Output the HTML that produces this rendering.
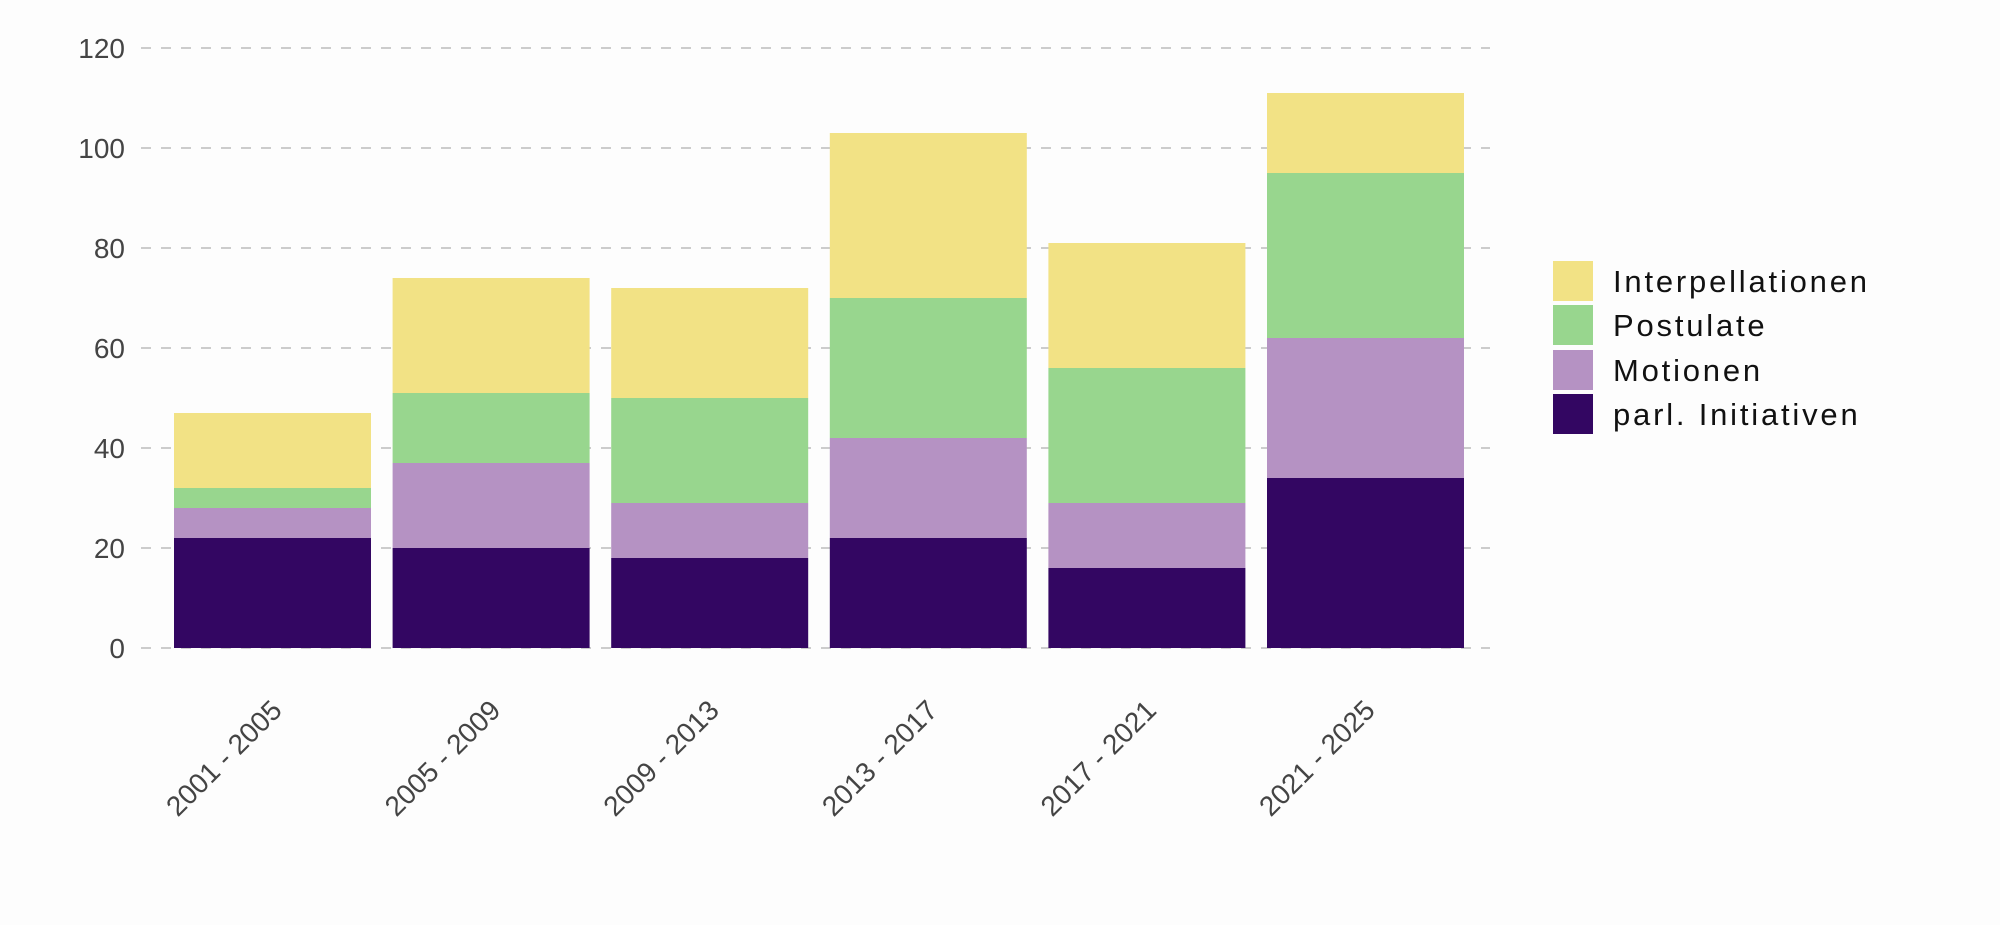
<!DOCTYPE html>
<html><head><meta charset="utf-8"><style>
html,body{margin:0;padding:0;background:#fdfdfd;}
svg{display:block;}
</style></head><body>
<svg width="2000" height="925" xmlns="http://www.w3.org/2000/svg">
<rect width="2000" height="925" fill="#fdfdfd"/>
<g stroke="#cccccc" stroke-width="2" stroke-dasharray="10,10">
<line x1="141" y1="48" x2="1490" y2="48"/>
<line x1="141" y1="148" x2="1490" y2="148"/>
<line x1="141" y1="248" x2="1490" y2="248"/>
<line x1="141" y1="348" x2="1490" y2="348"/>
<line x1="141" y1="448" x2="1490" y2="448"/>
<line x1="141" y1="548" x2="1490" y2="548"/>
<line x1="141" y1="648" x2="1490" y2="648"/>
</g>
<g font-family="Liberation Sans, sans-serif" font-size="28" fill="#444" text-anchor="end">
<text x="125" y="58">120</text>
<text x="125" y="158">100</text>
<text x="125" y="258">80</text>
<text x="125" y="358">60</text>
<text x="125" y="458">40</text>
<text x="125" y="558">20</text>
<text x="125" y="658">0</text>
</g>
<g id="bars"></g>
<g font-family="Liberation Sans, sans-serif" font-size="28" fill="#444" text-anchor="end" id="xl"></g>
<g font-family="Liberation Sans, DejaVu Sans, sans-serif" font-size="31" fill="#111" letter-spacing="2.8">
<rect x="1553" y="261" width="40" height="40" fill="#f2e285"/>
<rect x="1553" y="305" width="40" height="40" fill="#98d68e"/>
<rect x="1553" y="350" width="40" height="40" fill="#b592c3"/>
<rect x="1553" y="394" width="40" height="40" fill="#330662"/>
<text x="1613" y="292">Interpellationen</text>
<text x="1613" y="336">Postulate</text>
<text x="1613" y="381">Motionen</text>
<text x="1613" y="425">parl. Initiativen</text>
</g>
<script>
var data=[[22,6,4,15],[20,17,14,23],[18,11,21,22],[22,20,28,33],[16,13,27,25],[34,28,33,16]];
var labels=["2001 - 2005","2005 - 2009","2009 - 2013","2013 - 2017","2017 - 2021","2021 - 2025"];
var cols=["#330662","#b592c3","#98d68e","#f2e285"];
var ns="http://www.w3.org/2000/svg",g=document.getElementById("bars"),xl=document.getElementById("xl");
for(var i=0;i<6;i++){var x=174+i*218.6,c=0;
for(var j=0;j<4;j++){var r=document.createElementNS(ns,"rect");var y0=648-5*c;c+=data[i][j];var y1=648-5*c;
r.setAttribute("x",x);r.setAttribute("y",y1);r.setAttribute("width",197);r.setAttribute("height",y0-y1);r.setAttribute("fill",cols[j]);g.appendChild(r);}
var t=document.createElementNS(ns,"text");var cx=x+98.5+11;t.setAttribute("x",cx);t.setAttribute("y",712);t.setAttribute("transform","rotate(-45 "+cx+" 712)");t.textContent=labels[i];xl.appendChild(t);}
</script>
</svg>
</body></html>
